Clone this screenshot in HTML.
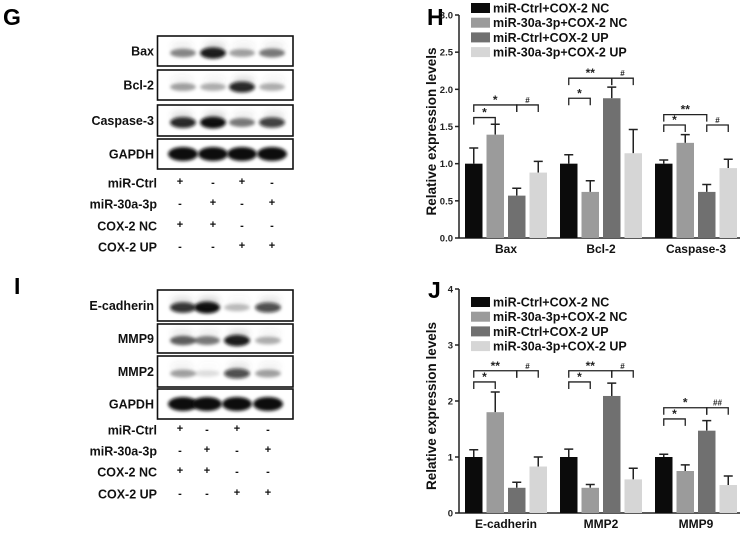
<!DOCTYPE html>
<html><head><meta charset="utf-8">
<style>
html,body{margin:0;padding:0;background:#fff;}
svg{display:block;font-family:"Liberation Sans",Arial,sans-serif;font-weight:bold;}
</style></head>
<body>
<svg id="fig" width="746" height="533" viewBox="0 0 746 533" xmlns="http://www.w3.org/2000/svg">
<defs>
<filter id="bl" x="-30%" y="-80%" width="160%" height="260%"><feGaussianBlur stdDeviation="1.6"/></filter>
<filter id="bl2" x="-30%" y="-80%" width="160%" height="260%"><feGaussianBlur stdDeviation="3"/></filter>
</defs>
<text x="3" y="25" font-size="23">G</text>
<text x="14" y="294" font-size="23">I</text>
<text x="427" y="25" font-size="23">H</text>
<text x="428" y="298" font-size="23">J</text>
<g id="blots"></g>
<g id="chartH"></g>
<g id="chartJ"></g>
</svg>
<script>
// ---- Chart data ----
const seriesNames = ["miR-Ctrl+COX-2 NC","miR-30a-3p+COX-2 NC","miR-Ctrl+COX-2 UP","miR-30a-3p+COX-2 UP"];
const seriesColors = ["#0b0b0b","#9b9b9b","#707070","#d6d6d6"];
const hCategories = ["Bax","Bcl-2","Caspase-3"];
const hMeans = [[1.0,1.39,0.57,0.88],[1.0,0.62,1.88,1.14],[1.0,1.28,0.62,0.94]];
const hErrors = [[0.21,0.14,0.10,0.15],[0.12,0.15,0.15,0.32],[0.05,0.11,0.10,0.12]];
const hTicks = [0,0.5,1.0,1.5,2.0,2.5,3.0];
const hTickLabels = ["0.0","0.5","1.0","1.5","2.0","2.5","3.0"];
const hSig = [[0,0,1,1.62,"*"],[0,0,2,1.79,"*"],[0,2,3,1.79,"#"],[1,0,1,1.88,"*"],[1,0,2,2.15,"**"],[1,2,3,2.15,"#"],[2,0,1,1.52,"*"],[2,0,2,1.66,"**"],[2,2,3,1.52,"#"]];
const jCategories = ["E-cadherin","MMP2","MMP9"];
const jMeans = [[1.0,1.8,0.45,0.83],[1.0,0.45,2.09,0.6],[1.0,0.75,1.47,0.5]];
const jErrors = [[0.13,0.36,0.10,0.17],[0.14,0.06,0.23,0.2],[0.05,0.11,0.18,0.16]];
const jTicks = [0,1,2,3,4];
const jTickLabels = ["0","1","2","3","4"];
const jSig = [[0,0,1,2.34,"*"],[0,0,2,2.54,"**"],[0,2,3,2.54,"#"],[1,0,1,2.34,"*"],[1,0,2,2.54,"**"],[1,2,3,2.54,"#"],[2,0,1,1.68,"*"],[2,0,2,1.88,"*"],[2,2,3,1.88,"##"]];

const NS="http://www.w3.org/2000/svg";
function mk(parent,tag,attrs,txt){const e=document.createElementNS(NS,tag);for(const k in attrs)e.setAttribute(k,attrs[k]);if(txt!==undefined)e.textContent=txt;parent.appendChild(e);return e;}

function drawChart(gid,cats,means,errs,ticks,tickLabels,sig,y0px,y1px,ymax,legY,prefix){
  const g=document.getElementById(gid);
  const axX=459, xEnd=740;
  const yS=v=>y0px-(v/ymax)*(y0px-y1px);
  const xS=(c,s)=>465+c*95+s*21.5;
  const bw=17.5;
  let a=mk(g,'line',{x1:axX,y1:y1px,x2:axX,y2:y0px,stroke:'#222','stroke-width':1.5});
  
  
  a=mk(g,'line',{x1:axX,y1:y0px,x2:xEnd,y2:y0px,stroke:'#222','stroke-width':1.5});
  
  
  ticks.forEach((t,i)=>{
    const y=yS(t);
    mk(g,'line',{x1:axX-4,y1:y,x2:axX,y2:y,stroke:'#222','stroke-width':1.5});
    const tl=mk(g,'text',{x:axX-6,y:y+3.5,'font-size':9.5,'text-anchor':'end',fill:'#222'},tickLabels[i]);
    
    
  });
  const yt=mk(g,'text',{x:0,y:0,'font-size':13.5,'text-anchor':'middle',fill:'#111',transform:`translate(436,${(y0px+y1px)/2+5}) rotate(-90)`},'Relative expression levels');
  
  
  cats.forEach((c,ci)=>{
    const cx=xS(ci,0)+(3*21.5+bw)/2;
    const ct=mk(g,'text',{x:cx,y:y0px+15,'font-size':12,'text-anchor':'middle',fill:'#111'},c);
    
    
    means[ci].forEach((m,si)=>{
      const x=xS(ci,si), y=yS(m), ye=yS(m+errs[ci][si]), xc=x+bw/2;
      const eb=mk(g,'path',{d:`M${xc},${y} V${ye} M${xc-4.5},${ye} H${xc+4.5}`,stroke:'#222','stroke-width':1.5,fill:'none'});
      
      
      const r=mk(g,'rect',{x:x,y:y,width:bw,height:y0px-y,fill:seriesColors[si]});
      
      
    });
  });
  sig.forEach(s=>{
    const [ci,a1,a2,v,lab]=s;
    const x1=xS(ci,a1)+bw/2, x2=xS(ci,a2)+bw/2, y=yS(v);
    const p=mk(g,'path',{d:`M${x1},${y+7} V${y} H${x2} V${y+7}`,stroke:'#222','stroke-width':1.3,fill:'none'});
    
    
    const t=mk(g,'text',{x:(x1+x2)/2,y:lab[0]=='#'?y-2:y-1,'font-size':lab[0]=='#'?8:12,'text-anchor':'middle',fill:'#222'},lab);
    
    
  });
  seriesNames.forEach((n,i)=>{
    const y=legY+i*14.7;
    const sw=mk(g,'rect',{x:471,y:y-5,width:19,height:10,fill:seriesColors[i]});
    
    
    const lt=mk(g,'text',{x:493,y:y+4.5,'font-size':12.5,fill:'#111'},n);
    
    
  });
}
drawChart('chartH',hCategories,hMeans,hErrors,hTicks,hTickLabels,hSig,238,15,3,8,'chart-h');
drawChart('chartJ',jCategories,jMeans,jErrors,jTicks,jTickLabels,jSig,513,289,4,302,'chart-j');

// ---- Western blots ----
const gLanes=[180,213,242,272];
const gRows=[["Bax",36,66,[0.45,0.9,0.35,0.5]],["Bcl-2",70,100,[0.35,0.3,0.85,0.3]],["Caspase-3",105,136,[0.85,1,0.5,0.75]],["GAPDH",139,169,[1,1,1,1]]];
const iRows=[["E-cadherin",290,321,[0.8,1,0.25,0.7]],["MMP9",324,353,[0.6,0.5,0.9,0.3]],["MMP2",356,387,[0.35,0.12,0.7,0.35]],["GAPDH",389,419,[1,1,1,1]]];
const gTreat=[["miR-Ctrl",183,["+","-","+","-"]],["miR-30a-3p",204,["-","+","-","+"]],["COX-2 NC",226,["+","+","-","-"]],["COX-2 UP",247,["-","-","+","+"]]];
const iTreat=[["miR-Ctrl",430,["+","-","+","-"]],["miR-30a-3p",451,["-","+","-","+"]],["COX-2 NC",472,["+","+","-","-"]],["COX-2 UP",494,["-","-","+","+"]]];
const bg=document.getElementById('blots');
function drawBlot(rows,treat,lanes,prefix){
  rows.forEach(r=>{
    const [name,t,b,ints]=r; const cy=(t+b)/2;
    const box=mk(bg,'rect',{x:157.5,y:t,width:135.5,height:b-t,fill:'#fff',stroke:'#111','stroke-width':1.6});
    
    
    const lb=mk(bg,'text',{x:154,y:cy+4.5,'font-size':12.5,'text-anchor':'end',fill:'#111'},name);
    
    
    ints.forEach((v,i)=>{
      const isG=name=="GAPDH";
      const band=mk(bg,'ellipse',{cx:lanes[i]+ (i==0?3:0),cy:cy+(isG?0:2),rx:isG?15:13,ry:isG?7:3+v*3,fill:`rgba(10,10,10,${Math.min(1,v*1.05)})`,filter:'url(#bl)'});
      
      
      if(!isG){mk(bg,'ellipse',{cx:lanes[i]+2,cy:cy-5,rx:11,ry:5,fill:`rgba(80,80,80,${v*0.18})`,filter:'url(#bl2)'});}
    });
  });
  treat.forEach(tr=>{
    const lb=mk(bg,'text',{x:157,y:tr[1]+4.5,'font-size':12.5,'text-anchor':'end',fill:'#111'},tr[0]);
    
    
    tr[2].forEach((s,i)=>{
      const st=mk(bg,'text',{x:lanes[i],y:tr[1]+(s=="+"?2:3),'font-size':11,'text-anchor':'middle',fill:'#111'},s);
      
      
    });
  });
}
drawBlot(gRows,gTreat,gLanes,'g');
drawBlot(iRows,iTreat,[180,207,237,268],'i');
</script>
</body></html>
